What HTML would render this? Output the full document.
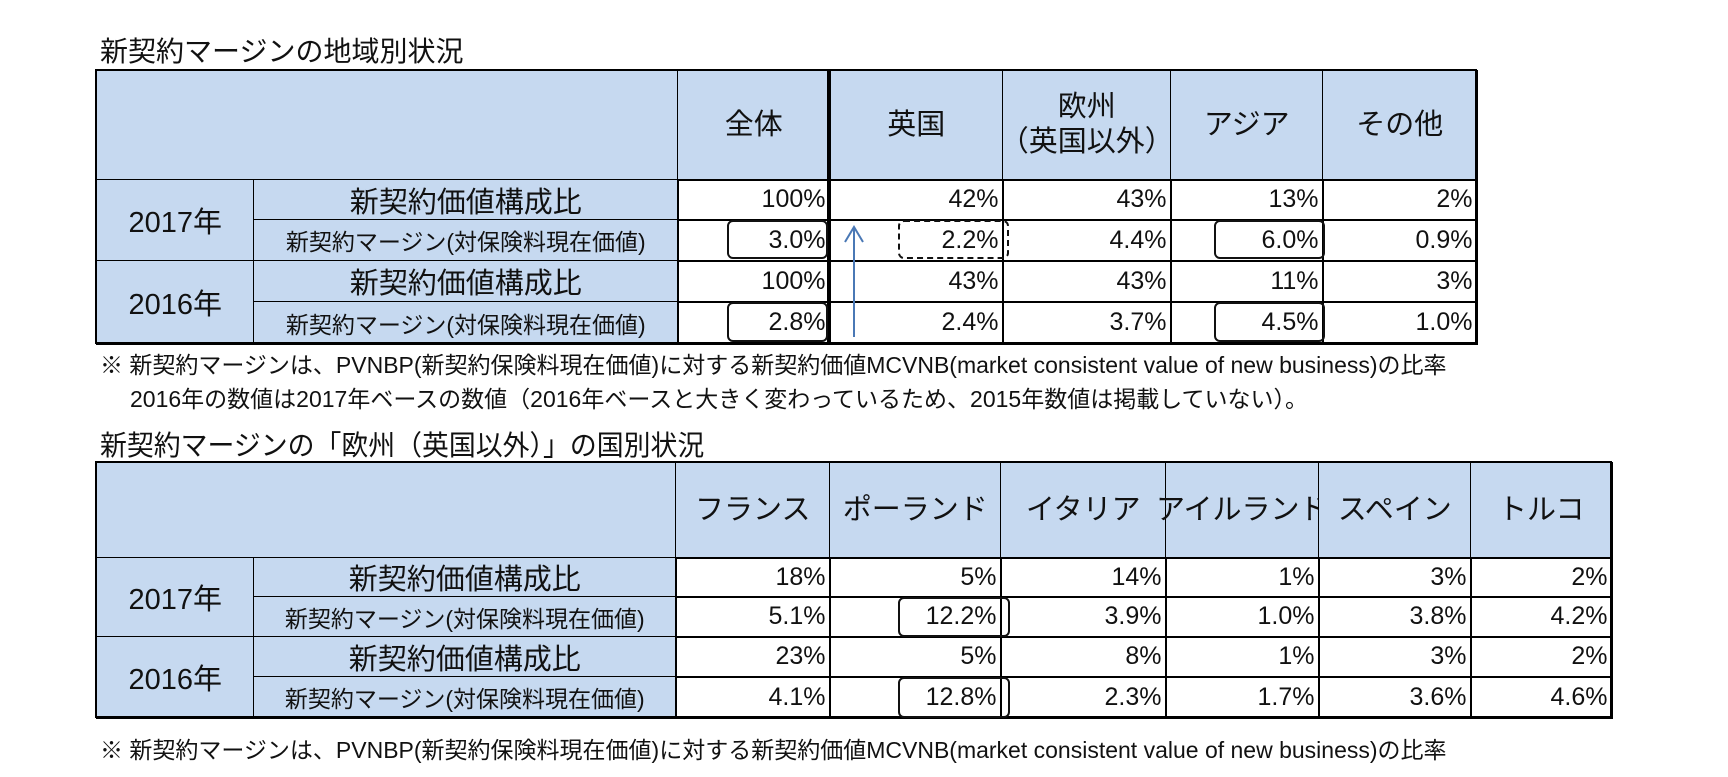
<!DOCTYPE html>
<html lang="ja"><head><meta charset="utf-8">
<style>
body{margin:0;width:1728px;height:777px;background:#fff;position:relative;overflow:hidden;font-family:"Liberation Sans","Noto Sans CJK JP",sans-serif;color:#111}
.t{position:absolute;white-space:nowrap}
.c{position:absolute;box-sizing:border-box;border:1.5px solid #000;display:flex;align-items:center;overflow:visible}
.c span{display:inline-block;white-space:nowrap}
.blue{background:#c6d9f0}
.num{justify-content:flex-end;padding-right:4px;font-size:25px}
.ctr{justify-content:center}
.box{position:absolute;border:2.5px solid #111;border-radius:6px;box-sizing:border-box}
</style></head><body>
<div class="t" style="left:100px;top:30px;font-size:28px">新契約マージンの地域別状況</div>
<div class="t" style="left:100px;top:346px;font-size:23px">※ 新契約マージンは、PVNBP(新契約保険料現在価値)に対する新契約価値MCVNB(market consistent value of new business)の比率</div>
<div class="t" style="left:130px;top:380px;font-size:23px">2016年の数値は2017年ベースの数値（2016年ベースと大きく変わっているため、2015年数値は掲載していない）。</div>
<div class="t" style="left:100px;top:424px;font-size:28px;transform:scaleX(.96);transform-origin:left">新契約マージンの「欧州（英国以外）」の国別状況</div>
<div class="t" style="left:100px;top:731px;font-size:23px">※ 新契約マージンは、PVNBP(新契約保険料現在価値)に対する新契約価値MCVNB(market consistent value of new business)の比率</div>
<div id="root"></div>
<script>
const t1Cols=["全体","英国","欧州<br>（英国以外）","アジア","その他"];
const t1Rows=[["100%","42%","43%","13%","2%"],["3.0%","2.2%","4.4%","6.0%","0.9%"],["100%","43%","43%","11%","3%"],["2.8%","2.4%","3.7%","4.5%","1.0%"]];
const t2Cols=["フランス","ポーランド","イタリア","アイルランド","スペイン","トルコ"];
const t2Rows=[["18%","5%","14%","1%","3%","2%"],["5.1%","12.2%","3.9%","1.0%","3.8%","4.2%"],["23%","5%","8%","1%","3%","2%"],["4.1%","12.8%","2.3%","1.7%","3.6%","4.6%"]];
const rowLabels=["新契約価値構成比","新契約マージン(対保険料現在価値)"];
const years=["2017年","2016年"];
const root=document.getElementById('root');
function cell(x,y,w,h,cls,html,name){
  const d=document.createElement('div');
  d.className='c '+cls;
  d.style.cssText=`left:${x}px;top:${y}px;width:${w+1.5}px;height:${h+1.5}px`;
  d.innerHTML='<span>'+html+'</span>';
  
  
  root.appendChild(d);return d;
}
function table(id,top,ys,xs,cols,rows){
  const L=xs[0],R=xs[xs.length-1];
  const outer=document.createElement('div');
  outer.style.cssText=`position:absolute;left:${L-1}px;top:${top-1}px;width:${R-L+2}px;height:${ys[4]-top+2}px;border:2px solid #000;box-sizing:border-box;z-index:3;pointer-events:none`;
  
  
  root.appendChild(outer);
  cell(L,top,xs[2]-L,ys[0]-top,'blue','',id+'-corner');
  cols.forEach((c,i)=>{const d=cell(xs[i+2],top,xs[i+3]-xs[i+2],ys[0]-top,'blue ctr',c,id+'-col-header');d.style.fontSize='29px';d.style.textAlign='center';d.style.lineHeight='1.2';});
  for(let y=0;y<2;y++){
    const d=cell(L,ys[y*2],xs[1]-L,ys[y*2+2]-ys[y*2],'blue ctr',years[y],id+'-year');d.style.fontSize='29px';
    for(let r=0;r<2;r++){
      const ri=y*2+r;
      const e=cell(xs[1],ys[ri],xs[2]-xs[1],ys[ri+1]-ys[ri],'blue ctr',rowLabels[r],id+'-row-label');
      e.style.fontSize=r?'23px':'29px';
      rows[ri].forEach((v,i)=>cell(xs[i+2],ys[ri],xs[i+3]-xs[i+2],ys[ri+1]-ys[ri],'num',v,id+'-value'));
    }
  }
}
table('table1',70,[179,219,260,301,343],[96,253,677,829,1002,1170,1322,1476],t1Cols,t1Rows);
table('table2',462,[557,596,636,676,717],[96,253,675,829,1000,1165,1318,1470,1611],t2Cols,t2Rows);
</script>
<div style="position:absolute;left:827px;top:70px;width:4px;height:273px;background:#000;z-index:4"></div>
<div class="box" style="left:727px;top:220px;width:101px;height:39px;z-index:5"></div>
<div class="box" style="left:898px;top:220px;width:111px;height:39px;border-style:dashed;z-index:5"></div>
<div class="box" style="left:1214px;top:220px;width:111px;height:39px;z-index:5"></div>
<div class="box" style="left:727px;top:302px;width:101px;height:40px;z-index:5"></div>
<div class="box" style="left:1214px;top:302px;width:111px;height:40px;z-index:5"></div>
<div class="box" style="left:898px;top:597px;width:112px;height:40px;z-index:5"></div>
<div class="box" style="left:898px;top:677px;width:112px;height:41px;z-index:5"></div>
<svg style="position:absolute;left:840px;top:222px;z-index:6" width="30" height="120"><path d="M14 115 V5 M5 20 L14 5 L23 20" stroke="#4a78b5" stroke-width="2" fill="none"/></svg>
</body></html>
